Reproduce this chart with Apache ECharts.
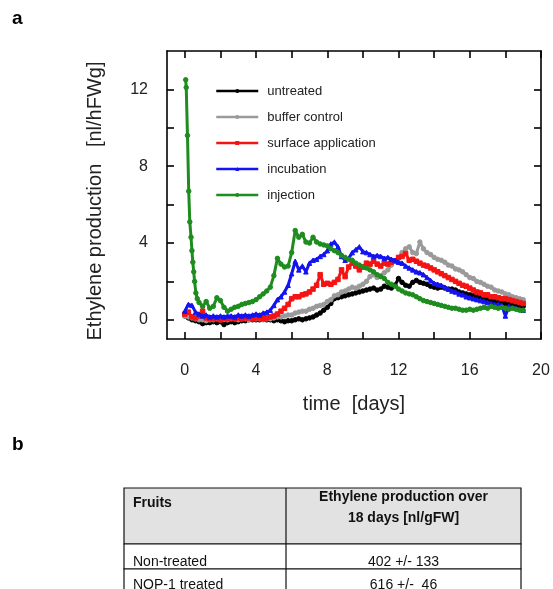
<!DOCTYPE html>
<html>
<head>
<meta charset="utf-8">
<script src="https://cdn.jsdelivr.net/npm/echarts@6/dist/echarts.min.js"></script>
<style>
html,body{margin:0;padding:0;background:#fff;}
#chart{width:553px;height:589px;}
</style>
</head>
<body>
<div id="chart"></div>
<script>
// ---- data ----
const days = [0,0.2,0.4,0.6,0.8,1,1.2,1.4,1.6,1.8,2,2.2,2.4,2.6,2.8,3,3.2,3.4,3.6,3.8,4,4.2,4.4,4.6,4.8,5,5.2,5.4,5.6,5.8,6,6.2,6.4,6.6,6.8,7,7.2,7.4,7.6,7.8,8,8.2,8.4,8.6,8.8,9,9.2,9.4,9.6,9.8,10,10.2,10.4,10.6,10.8,11,11.2,11.4,11.6,11.8,12,12.2,12.4,12.6,12.8,13,13.2,13.4,13.6,13.8,14,14.2,14.4,14.6,14.8,15,15.2,15.4,15.6,15.8,16,16.2,16.4,16.6,16.8,17,17.2,17.4,17.6,17.8,18,18.2,18.4,18.6,18.8,19];

const untreated = [
  0.2,0.1,0.0,-0.05,-0.1,-0.2,-0.15,-0.15,-0.1,-0.15,
  -0.1,-0.25,-0.15,-0.1,-0.15,-0.1,-0.05,-0.05,0.0,0.0,
  0.0,0.0,0.05,0.0,0.0,-0.05,0.0,-0.05,-0.1,-0.05,
  -0.05,0.0,0.05,0.0,0.05,0.1,0.15,0.25,0.35,0.5,
  0.65,0.85,1.1,1.15,1.2,1.25,1.3,1.35,1.4,1.45,
  1.5,1.55,1.6,1.65,1.55,1.6,1.75,1.7,1.65,1.8,
  2.15,1.95,1.8,1.75,1.95,2.05,1.95,1.9,1.85,1.75,
  1.7,1.65,1.7,1.65,1.6,1.6,1.55,1.45,1.4,1.35,
  1.3,1.25,1.2,1.15,1.1,1.05,1.0,0.95,0.95,0.9,
  0.85,0.85,0.8,0.75,0.7,0.7];

const bufferControl = [
  0.2,0.15,0.1,0.05,0.0,0.0,-0.05,0.0,0.0,0.05,
  0.0,0.05,0.0,0.05,0.05,0.0,0.05,0.05,0.0,0.05,
  0.05,0.05,0.0,0.05,0.05,0.1,0.15,0.15,0.2,0.25,
  0.25,0.35,0.4,0.45,0.45,0.55,0.6,0.7,0.75,0.8,
  0.95,1.05,1.25,1.3,1.45,1.5,1.6,1.7,1.65,1.75,
  1.85,2.0,2.25,2.35,2.2,2.3,2.45,2.6,2.85,3.05,
  3.2,3.5,3.7,3.8,3.5,3.45,4.05,3.7,3.5,3.4,
  3.25,3.15,3.1,3.0,2.85,2.8,2.65,2.6,2.5,2.35,
  2.2,2.15,2.0,1.95,1.85,1.75,1.7,1.55,1.5,1.45,
  1.35,1.3,1.2,1.15,1.1,1.05];

const surfaceApplication = [
  0.3,0.4,0.15,0.1,0.2,0.45,0.1,0.05,0.05,0.1,
  0.0,0.05,0.05,0.1,0.05,0.1,0.05,0.1,0.1,0.05,
  0.1,0.1,0.05,0.1,0.15,0.2,0.3,0.45,0.6,0.8,
  1.1,1.2,1.2,1.3,1.35,1.45,1.6,1.8,2.35,1.85,
  1.9,1.85,1.95,2.1,2.6,2.25,2.75,2.95,2.8,2.6,
  2.75,2.95,2.9,3.05,2.9,2.8,2.95,2.9,3.0,3.05,
  3.25,3.3,3.45,3.1,3.15,3.05,2.95,2.85,2.8,2.7,
  2.6,2.5,2.4,2.3,2.2,2.1,2.0,1.9,1.8,1.75,
  1.65,1.55,1.45,1.4,1.3,1.3,1.2,1.2,1.15,1.1,
  1.1,1.05,1.0,0.95,0.9,0.85];

const incubation = [
  0.45,0.8,0.75,0.4,0.3,0.2,0.25,0.15,0.2,0.15,
  0.2,0.15,0.2,0.2,0.15,0.25,0.2,0.25,0.2,0.25,
  0.3,0.25,0.35,0.4,0.5,0.75,1.05,1.2,1.45,1.8,
  2.4,3.05,2.6,2.8,2.5,2.95,3.1,3.15,3.3,3.4,
  3.6,3.95,4.05,3.8,3.3,3.1,3.2,3.5,3.65,3.8,
  3.55,3.5,3.4,3.3,3.35,3.3,3.2,3.25,3.15,3.1,
  3.0,2.95,2.8,2.7,2.6,2.5,2.45,2.35,2.2,2.05,
  1.9,1.85,1.8,1.7,1.6,1.5,1.45,1.35,1.3,1.2,
  1.15,1.1,1.05,1.0,0.95,0.9,0.85,0.8,0.8,0.75,
  0.2,0.7,0.65,0.6,0.55,0.5];

const injectionEarlyDays = [0.05,0.08,0.15,0.22,0.28,0.35,0.4,0.45,0.5,0.55,0.62,0.7,0.8];
const injectionEarly = [12.5,12.1,9.6,6.7,5.1,4.3,3.6,3.0,2.5,2.0,1.4,1.1,0.9];
const injectionLate = [
  0.7,0.95,0.6,0.7,1.15,1.0,0.65,0.45,0.55,0.65,
  0.7,0.8,0.85,0.9,0.95,1.05,1.2,1.35,1.5,1.7,
  2.3,3.2,2.9,2.75,2.8,3.5,4.65,4.3,4.45,4.05,
  4.0,4.3,4.05,3.95,3.9,3.85,3.7,3.6,3.5,3.35,
  3.25,3.15,3.1,2.95,2.85,2.75,2.7,2.6,2.5,2.35,
  2.25,2.15,1.95,1.85,1.75,1.6,1.5,1.4,1.35,1.3,
  1.2,1.1,1.0,0.95,0.9,0.85,0.8,0.75,0.7,0.65,
  0.6,0.6,0.55,0.5,0.5,0.55,0.5,0.55,0.6,0.65,
  0.6,0.7,0.65,0.6,0.65,0.6,0.55,0.6,0.55,0.5,
  0.5];

const seriesNames = ['untreated','buffer control','surface application','incubation','injection'];
const xTicks = [0,2,4,6,8,10,12,14,16,18,20];
const xTickLabels = [0,4,8,12,16,20];
const yTicks = [0,2,4,6,8,10,12];
const yTickLabels = [0,4,8,12];

const tableHeader = ['Fruits', 'Ethylene production over', '18 days [nl/gFW]'];
const tableRows = [['Non-treated', '402 +/- 133'], ['NOP-1 treated', '616 +/-  46']];

// ---- build ----
const FONT = '"Liberation Sans", Arial, Helvetica, sans-serif';
function pairs(xs, ys) { return xs.map((x, i) => [x, ys[i]]); }
const injectionDays = injectionEarlyDays.concat(days.slice(5));
const injection = injectionEarly.concat(injectionLate);

const colors = ['#000000', '#9a9a9a', '#f41414', '#1414f0', '#1e8c1e'];
const symbols = ['circle', 'circle', 'rect', 'triangle', 'circle'];
const dataSets = [
  pairs(days, untreated),
  pairs(days, bufferControl),
  pairs(days, surfaceApplication),
  pairs(days, incubation),
  pairs(injectionDays, injection)
];

const series = seriesNames.map((name, i) => ({
  name: name,
  type: 'line',
  xAxisIndex: 0,
  yAxisIndex: 0,
  data: dataSets[i],
  symbol: symbols[i],
  symbolSize: 4.5,
  showSymbol: true,
  itemStyle: { color: colors[i], borderColor: colors[i] },
  lineStyle: { color: colors[i], width: 3 },
  z: 2 + i,
  animation: false
}));

const axisLineStyle = { color: '#000', width: 1.6 };
const tickStyle = { color: '#000', width: 1.6 };

const tLeft = 124, tMid = 286, tRight = 521, tTop = 488, tHead = 544, tRow1 = 569, tRow2 = 594;

const option = {
  animation: false,
  backgroundColor: '#fff',
  grid: { left: 167, top: 51, width: 374, height: 288, containLabel: false },
  legend: {
    data: seriesNames,
    orient: 'vertical',
    left: 215,
    top: 84,
    padding: 0,
    itemWidth: 42,
    itemHeight: 5,
    itemGap: 12,
    lineStyle: { width: 2.5 },
    textStyle: { fontFamily: FONT, fontSize: 13, color: '#222', lineHeight: 14, padding: [0, 0, 0, 4] }
  },
  xAxis: [
    {
      type: 'value', min: -1, max: 20, position: 'bottom',
      axisLine: { show: true, onZero: false, lineStyle: axisLineStyle },
      axisTick: { show: true, inside: true, length: 7, customValues: xTicks, lineStyle: tickStyle },
      axisLabel: { show: true, customValues: xTickLabels, fontFamily: FONT, fontSize: 16, color: '#222', margin: 24 },
      splitLine: { show: false },
      name: 'time  [days]', nameLocation: 'middle', nameGap: 55,
      nameTextStyle: { fontFamily: FONT, fontSize: 20, color: '#222' }
    },
    {
      type: 'value', min: -1, max: 20, position: 'top',
      axisLine: { show: true, onZero: false, lineStyle: axisLineStyle },
      axisTick: { show: true, inside: true, length: 7, customValues: xTicks, lineStyle: tickStyle },
      axisLabel: { show: false },
      splitLine: { show: false }
    }
  ],
  yAxis: [
    {
      type: 'value', min: -1, max: 14, position: 'left',
      axisLine: { show: true, onZero: false, lineStyle: axisLineStyle },
      axisTick: { show: true, inside: true, length: 7, customValues: yTicks, lineStyle: tickStyle },
      axisLabel: { show: true, customValues: yTickLabels, fontFamily: FONT, fontSize: 16, color: '#222', margin: 19 },
      splitLine: { show: false },
      name: 'Ethylene production   [nl/hFWg]', nameLocation: 'middle', nameGap: 62, nameRotate: 90,
      nameTextStyle: { fontFamily: FONT, fontSize: 20, color: '#222', padding: [0, 12, 0, 0] }
    },
    {
      type: 'value', min: -1, max: 14, position: 'right',
      axisLine: { show: true, onZero: false, lineStyle: axisLineStyle },
      axisTick: { show: true, inside: true, length: 7, customValues: yTicks, lineStyle: tickStyle },
      axisLabel: { show: false },
      splitLine: { show: false }
    }
  ],
  series: series,
  graphic: [
    { type: 'text', style: { text: 'a', x: 12, y: 19, font: 'bold 19px ' + FONT, fill: '#000', textVerticalAlign: 'middle', verticalAlign: 'middle' } },
    { type: 'text', style: { text: 'b', x: 12, y: 445, font: 'bold 19px ' + FONT, fill: '#000', textVerticalAlign: 'middle', verticalAlign: 'middle' } },
    { type: 'rect', shape: { x: tLeft, y: tTop, width: tRight - tLeft, height: tHead - tTop }, style: { fill: '#e2e2e2', stroke: '#111', lineWidth: 1.2 } },
    { type: 'rect', shape: { x: tLeft, y: tHead, width: tRight - tLeft, height: tRow1 - tHead }, style: { fill: '#fff', stroke: '#111', lineWidth: 1.2 } },
    { type: 'rect', shape: { x: tLeft, y: tRow1, width: tRight - tLeft, height: tRow2 - tRow1 }, style: { fill: '#fff', stroke: '#111', lineWidth: 1.2 } },
    { type: 'line', shape: { x1: tMid, y1: tTop, x2: tMid, y2: tRow2 }, style: { stroke: '#111', lineWidth: 1.2 } },
    { type: 'text', style: { text: tableHeader[0], x: 133, y: 503, font: 'bold 14px ' + FONT, fill: '#111', textVerticalAlign: 'middle', verticalAlign: 'middle' } },
    { type: 'text', style: { text: tableHeader[1], x: (tMid + tRight) / 2, y: 497, font: 'bold 14px ' + FONT, fill: '#111', textAlign: 'center', align: 'center', textVerticalAlign: 'middle', verticalAlign: 'middle' } },
    { type: 'text', style: { text: tableHeader[2], x: (tMid + tRight) / 2, y: 518, font: 'bold 14px ' + FONT, fill: '#111', textAlign: 'center', align: 'center', textVerticalAlign: 'middle', verticalAlign: 'middle' } },
    { type: 'text', style: { text: tableRows[0][0], x: 133, y: 562, font: '14px ' + FONT, fill: '#111', textVerticalAlign: 'middle', verticalAlign: 'middle' } },
    { type: 'text', style: { text: tableRows[0][1], x: (tMid + tRight) / 2, y: 562, font: '14px ' + FONT, fill: '#111', textAlign: 'center', align: 'center', textVerticalAlign: 'middle', verticalAlign: 'middle' } },
    { type: 'text', style: { text: tableRows[1][0], x: 133, y: 585, font: '14px ' + FONT, fill: '#111', textVerticalAlign: 'middle', verticalAlign: 'middle' } },
    { type: 'text', style: { text: tableRows[1][1], x: (tMid + tRight) / 2, y: 585, font: '14px ' + FONT, fill: '#111', textAlign: 'center', align: 'center', textVerticalAlign: 'middle', verticalAlign: 'middle' } }
  ]
};

const chart = echarts.init(document.getElementById('chart'), null, { renderer: 'canvas' });
chart.setOption(option);
</script>
</body>
</html>
